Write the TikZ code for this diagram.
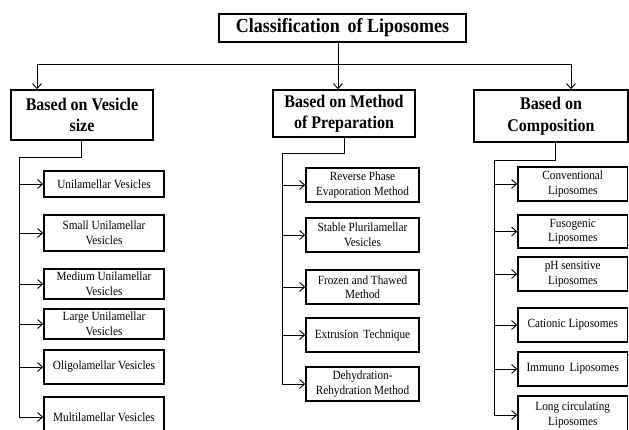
\documentclass[tikz,border=0pt]{standalone}
\usepackage{fontspec}
\setmainfont{Liberation Serif}[FakeStretch=0.9]
\usetikzlibrary{arrows.meta}
\tikzset{
  box/.style={draw, line width=1.6pt, inner sep=0pt, align=center},
  titlebox/.style={box, font=\bfseries\fontsize{20}{23}\selectfont},
  catbox/.style={box, font=\bfseries\fontsize{17.8}{21.5}\selectfont},
  leaf/.style={box, font=\fontsize{12.5}{14.5}\selectfont},
  conn/.style={line width=0.9pt},
  arr/.style={conn, -{Straight Barb[length=5pt,width=9pt]}}
}
\begin{document}
\begin{tikzpicture}[x=1pt,y=-1pt]
\useasboundingbox (0,0) rectangle (629,429);
\clip (0,0) rectangle (629,429);
\fill[white] (0,0) rectangle (629,429);
% top
\node[titlebox, minimum width=247pt, minimum height=28pt] (T) at (342.5,28) {Classification\, of Liposomes};
\node[catbox, minimum width=142pt, minimum height=50pt] (L) at (82,115) {Based on Vesicle\\size};
\node[catbox, minimum width=142pt, minimum height=47pt] (M) at (344,113.5) {Based on Method\\of Preparation};
\node[catbox, minimum width=154pt, minimum height=52pt] (R) at (551,116) {Based on\\Composition};
\coordinate (j0) at (338,64);
\coordinate (hl) at (37,64);
\coordinate (hr) at (571,64);
\draw[conn] (T.south -| j0) -- (j0);
\draw[conn] (hl) -- (hr);
\draw[arr] (hl) -- (hl |- L.north);
\draw[arr] (j0) -- (j0 |- M.north);
\draw[arr] (hr) -- (hr |- R.north);
% left column
\node[leaf, minimum width=120pt, minimum height=26pt] (L1) at (104,184) {Unilamellar Vesicles};
\node[leaf, minimum width=120pt, minimum height=36pt] (L2) at (104,233) {Small Unilamellar\\Vesicles};
\node[leaf, minimum width=120pt, minimum height=30pt] (L3) at (104,284) {Medium Unilamellar\\Vesicles};
\node[leaf, minimum width=120pt, minimum height=30pt] (L4) at (104,324) {Large Unilamellar\\Vesicles};
\node[leaf, minimum width=120pt, minimum height=34pt] (L5) at (104,367) {Oligolamellar Vesicles};
\node[leaf, minimum width=120pt, minimum height=40pt] (L6) at (104,417) {Multilamellar Vesicles};
\coordinate (la) at (81,157);
\coordinate (lb) at (19,157);
\draw[conn] (L.south -| la) -- (la) -- (lb) -- (lb |- L6.west);
\foreach \n in {L1,L2,L3,L4,L5,L6} \draw[arr] (lb |- \n.west) -- (\n.west);
% middle column
\node[leaf, minimum width=113pt, minimum height=34pt] (M1) at (362.5,185) {Reverse Phase\\Evaporation Method};
\node[leaf, minimum width=113pt, minimum height=34pt] (M2) at (362.5,235) {Stable Plurilamellar\\Vesicles};
\node[leaf, minimum width=113pt, minimum height=34pt] (M3) at (362.5,287) {Frozen and Thawed\\Method};
\node[leaf, minimum width=113pt, minimum height=34pt] (M4) at (362.5,335) {Extrusion\, Technique};
\node[leaf, minimum width=113pt, minimum height=34pt] (M5) at (362.5,384) {Dehydration-\\Rehydration Method};
\coordinate (ma) at (344,153);
\coordinate (mb) at (282,153);
\draw[conn] (M.south -| ma) -- (ma) -- (mb) -- (mb |- M5.west);
\foreach \n in {M1,M2,M3,M4,M5} \draw[arr] (mb |- \n.west) -- (\n.west);
% right column
\node[leaf, minimum width=109.5pt, minimum height=34pt] (R1) at (572.75,184) {Conventional\\Liposomes};
\node[leaf, minimum width=109.5pt, minimum height=33pt] (R2) at (572.75,231.5) {Fusogenic\\Liposomes};
\node[leaf, minimum width=109.5pt, minimum height=34pt] (R3) at (572.75,274) {pH sensitive\\Liposomes};
\node[leaf, minimum width=109.5pt, minimum height=34pt] (R4) at (572.75,325) {Cationic Liposomes};
\node[leaf, minimum width=109.5pt, minimum height=34pt] (R5) at (572.75,369) {Immuno\, Liposomes};
\node[leaf, minimum width=109.5pt, minimum height=38pt] (R6) at (572.75,415) {Long circulating\\Liposomes};
\coordinate (ra) at (555,160);
\coordinate (rb) at (494,160);
\draw[conn] (R.south -| ra) -- (ra) -- (rb) -- (rb |- R6.west);
\foreach \n in {R1,R2,R3,R4,R5,R6} \draw[arr] (rb |- \n.west) -- (\n.west);
\end{tikzpicture}
\end{document}
